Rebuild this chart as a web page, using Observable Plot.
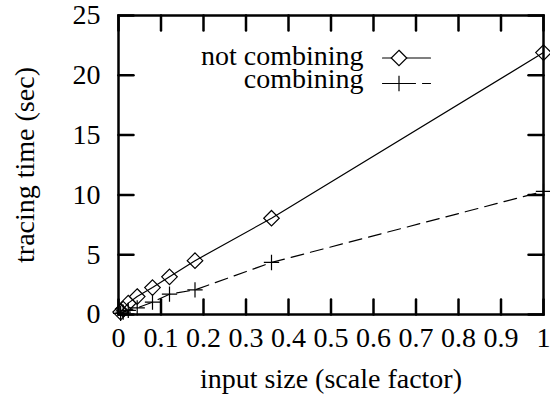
<!DOCTYPE html>
<html>
<head>
<meta charset="utf-8">
<script src="https://cdn.jsdelivr.net/npm/d3@7"></script>
<script src="https://cdn.jsdelivr.net/npm/@observablehq/plot@0.6"></script>
<style>
  html, body { margin: 0; padding: 0; background: #fff; }
  svg { font-family: "Liberation Serif", "Times New Roman", serif; }
</style>
</head>
<body>
<div id="chart"></div>
<script>
// Data
const scaleFactor = [0.005, 0.011, 0.023, 0.044, 0.08, 0.12, 0.18, 0.36, 1.0];
const notCombining = [0.2, 0.45, 0.95, 1.5, 2.25, 3.15, 4.5, 8.05, 21.9];
const combining = [0.1, 0.2, 0.35, 0.55, 1.03, 1.7, 2.06, 4.35, 10.3];
const seriesNames = ["not combining", "combining"];
const xTicks = [0, 0.1, 0.2, 0.3, 0.4, 0.5, 0.6, 0.7, 0.8, 0.9, 1];
const yTicks = [0, 5, 10, 15, 20, 25];
const xLabel = "input size (scale factor)";
const yLabel = "tracing time (sec)";

const rowsA = scaleFactor.map((x, i) => ({x, y: notCombining[i]}));
const rowsB = scaleFactor.map((x, i) => ({x, y: combining[i]}));

const tickShape = {draw(context, l) { context.moveTo(0, 0); context.lineTo(0, -l); }};
const tickOpts = {length: 15, anchor: "start", shape: tickShape, strokeWidth: 2.5, stroke: "black"};
const fmt = d => d === 0 ? "0" : d === 1 ? "1" : String(d);
const DASH = "13,7";

const chart = Plot.plot({
  width: 550,
  height: 397,
  marginLeft: 118,
  marginRight: 7,
  marginTop: 15,
  marginBottom: 83,
  style: {fontFamily: "Liberation Serif", fontSize: "28px", background: "white", color: "black"},
  x: {domain: [0, 1]},
  y: {domain: [0, 25]},
  marks: [
    // tick labels
    Plot.axisX(xTicks, {anchor: "bottom", tickSize: 0, tickPadding: 13, tickFormat: fmt, label: null, fontSize: 28}),
    Plot.axisY(yTicks, {anchor: "left", tickSize: 0, tickPadding: 18, label: null, fontSize: 28}),
    // inward ticks (mirrored)
    Plot.vector(xTicks, {x: d => d, frameAnchor: "bottom", rotate: 0, ...tickOpts}),
    Plot.vector(xTicks, {x: d => d, frameAnchor: "top", rotate: 180, ...tickOpts}),
    Plot.vector(yTicks, {y: d => d, frameAnchor: "left", rotate: 90, ...tickOpts}),
    Plot.vector(yTicks, {y: d => d, frameAnchor: "right", rotate: 270, ...tickOpts}),
    Plot.frame({stroke: "black", strokeWidth: 2.5}),
    // axis titles
    Plot.text([xLabel], {text: d => d, frameAnchor: "bottom", dy: 65, textAnchor: "middle", lineAnchor: "middle", fontSize: 28}),
    Plot.text([yLabel], {text: d => d, frameAnchor: "left", dx: -93, rotate: -90, textAnchor: "middle", lineAnchor: "middle", fontSize: 28}),
    // series
    Plot.line(rowsA, {x: "x", y: "y", stroke: "black", strokeWidth: 1.2}),
    Plot.dot(rowsA, {x: "x", y: "y", symbol: "diamond2", r: 7, stroke: "black", strokeWidth: 1.2, fill: "none"}),
    Plot.line(rowsB, {x: "x", y: "y", stroke: "black", strokeWidth: 1.2, strokeDasharray: DASH}),
    Plot.dot(rowsB, {x: "x", y: "y", symbol: "plus", r: 5, stroke: "black", strokeWidth: 1.2}),
    // legend
    Plot.text([seriesNames[0]], {text: d => d, frameAnchor: "top-left", dx: 245, dy: 41, textAnchor: "end", lineAnchor: "middle", fontSize: 28}),
    Plot.text([seriesNames[1]], {text: d => d, frameAnchor: "top-left", dx: 245, dy: 64, textAnchor: "end", lineAnchor: "middle", fontSize: 28}),
    Plot.vector([seriesNames[0]], {frameAnchor: "top-left", dx: 264, dy: 42.5, rotate: 90, length: 48, anchor: "start", shape: tickShape, stroke: "black", strokeWidth: 1.2}),
    Plot.dot([seriesNames[0]], {frameAnchor: "top-left", dx: 280.5, dy: 42.5, symbol: "diamond2", r: 7, stroke: "black", strokeWidth: 1.2, fill: "white"}),
    Plot.vector([seriesNames[1]], {frameAnchor: "top-left", dx: 264, dy: 68, rotate: 90, length: 48, anchor: "start", shape: tickShape, stroke: "black", strokeWidth: 1.2, strokeDasharray: DASH}),
    Plot.dot([seriesNames[1]], {frameAnchor: "top-left", dx: 280.5, dy: 68, symbol: "plus", r: 5, stroke: "black", strokeWidth: 1.2})
  ]
});
document.getElementById("chart").appendChild(chart);
</script>
</body>
</html>
